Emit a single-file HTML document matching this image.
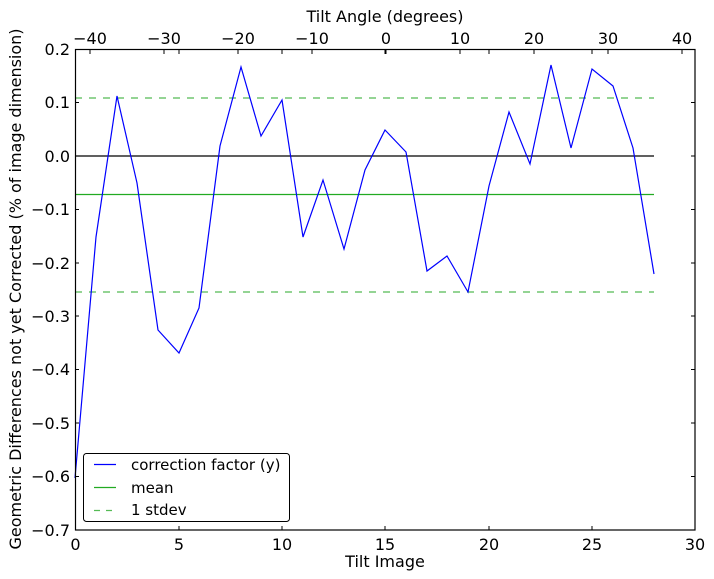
<!DOCTYPE html>
<html><head><meta charset="utf-8"><style>
body{margin:0;background:#fff;}
svg{display:block;font-family:"DejaVu Sans","Liberation Sans",sans-serif;}
</style></head><body>
<svg width="714" height="579" viewBox="0 0 714 579" xmlns="http://www.w3.org/2000/svg">
<rect width="714" height="579" fill="#fff"/>
<line x1="75" y1="98" x2="654" y2="98" stroke="#55bb55" stroke-width="1.2" stroke-dasharray="7,7"/>
<line x1="75" y1="292" x2="654" y2="292" stroke="#55bb55" stroke-width="1.2" stroke-dasharray="7,7"/>
<line x1="75" y1="194.5" x2="654" y2="194.5" stroke="#22aa22" stroke-width="1.2"/>
<line x1="75" y1="156" x2="654" y2="156" stroke="#000" stroke-width="1.2"/>
<polyline fill="none" stroke="#0000ff" stroke-width="1.2" points="75,478 96,237 117,96 137,183 158,330 179,353 199,308 220,146 241,67 261,136 282,100 303,237 323,180 344,249 365,170 385,130 406,152 427,271 447,256 468,292 489,186 509,112 530,164 551,65 571,148 592,69 613,86 633,148 654,274"/>
<rect x="75.5" y="49.5" width="619.5" height="480.5" fill="none" stroke="#000" stroke-width="1.2"/>
<g stroke="#000" stroke-width="1">
<line x1="75.5" y1="530" x2="75.5" y2="526"/><line x1="75.5" y1="50" x2="75.5" y2="54"/>
<line x1="179" y1="530" x2="179" y2="526"/><line x1="179" y1="50" x2="179" y2="54"/>
<line x1="282" y1="530" x2="282" y2="526"/><line x1="282" y1="50" x2="282" y2="54"/>
<line x1="385" y1="530" x2="385" y2="526"/><line x1="385" y1="50" x2="385" y2="54"/>
<line x1="489" y1="530" x2="489" y2="526"/><line x1="489" y1="50" x2="489" y2="54"/>
<line x1="592" y1="530" x2="592" y2="526"/><line x1="592" y1="50" x2="592" y2="54"/>
<line x1="90" y1="50" x2="90" y2="54"/><line x1="164" y1="50" x2="164" y2="54"/>
<line x1="238" y1="50" x2="238" y2="54"/><line x1="312" y1="50" x2="312" y2="54"/>
<line x1="386" y1="50" x2="386" y2="54"/><line x1="460" y1="50" x2="460" y2="54"/>
<line x1="534" y1="50" x2="534" y2="54"/><line x1="608" y1="50" x2="608" y2="54"/>
<line x1="682" y1="50" x2="682" y2="54"/>
<line x1="75" y1="102.5" x2="79" y2="102.5"/><line x1="695" y1="102.5" x2="691" y2="102.5"/>
<line x1="75" y1="156" x2="79" y2="156"/><line x1="695" y1="156" x2="691" y2="156"/>
<line x1="75" y1="209.5" x2="79" y2="209.5"/><line x1="695" y1="209.5" x2="691" y2="209.5"/>
<line x1="75" y1="263" x2="79" y2="263"/><line x1="695" y1="263" x2="691" y2="263"/>
<line x1="75" y1="316" x2="79" y2="316"/><line x1="695" y1="316" x2="691" y2="316"/>
<line x1="75" y1="369.5" x2="79" y2="369.5"/><line x1="695" y1="369.5" x2="691" y2="369.5"/>
<line x1="75" y1="423" x2="79" y2="423"/><line x1="695" y1="423" x2="691" y2="423"/>
<line x1="75" y1="476.5" x2="79" y2="476.5"/><line x1="695" y1="476.5" x2="691" y2="476.5"/>
</g>
<g font-size="16" fill="#000">
<g text-anchor="middle">
<text x="75.5" y="550">0</text><text x="179" y="550">5</text><text x="282" y="550">10</text>
<text x="385" y="550">15</text><text x="489" y="550">20</text><text x="592" y="550">25</text><text x="695" y="550">30</text>
<text x="90" y="44">−40</text><text x="164" y="44">−30</text><text x="238" y="44">−20</text>
<text x="312" y="44">−10</text><text x="386" y="44">0</text><text x="460" y="44">10</text>
<text x="534" y="44">20</text><text x="608" y="44">30</text><text x="682" y="44">40</text>
<text x="385" y="567">Tilt Image</text>
<text x="385" y="22">Tilt Angle (degrees)</text>
</g>
<g text-anchor="end">
<text x="70" y="55">0.2</text><text x="70" y="108">0.1</text><text x="70" y="162">0.0</text>
<text x="70" y="215">−0.1</text><text x="70" y="269">−0.2</text><text x="70" y="322">−0.3</text>
<text x="70" y="375">−0.4</text><text x="70" y="429">−0.5</text><text x="70" y="482">−0.6</text>
<text x="70" y="536">−0.7</text>
</g>
<text transform="translate(21,289) rotate(-90)" text-anchor="middle">Geometric Differences not yet Corrected (% of image dimension)</text>
</g>
<rect x="83.5" y="453.5" width="206" height="68" rx="3" fill="#fff" stroke="#000" stroke-width="1"/>
<line x1="94" y1="464.5" x2="116" y2="464.5" stroke="#0000ff" stroke-width="1.2"/>
<line x1="94" y1="487.5" x2="116" y2="487.5" stroke="#22aa22" stroke-width="1.2"/>
<line x1="94" y1="510.5" x2="116" y2="510.5" stroke="#55bb55" stroke-width="1.2" stroke-dasharray="6,6"/>
<g font-size="15" fill="#000">
<text x="131" y="470">correction factor (y)</text>
<text x="131" y="493">mean</text>
<text x="131" y="515">1 stdev</text>
</g>
</svg>
</body></html>
